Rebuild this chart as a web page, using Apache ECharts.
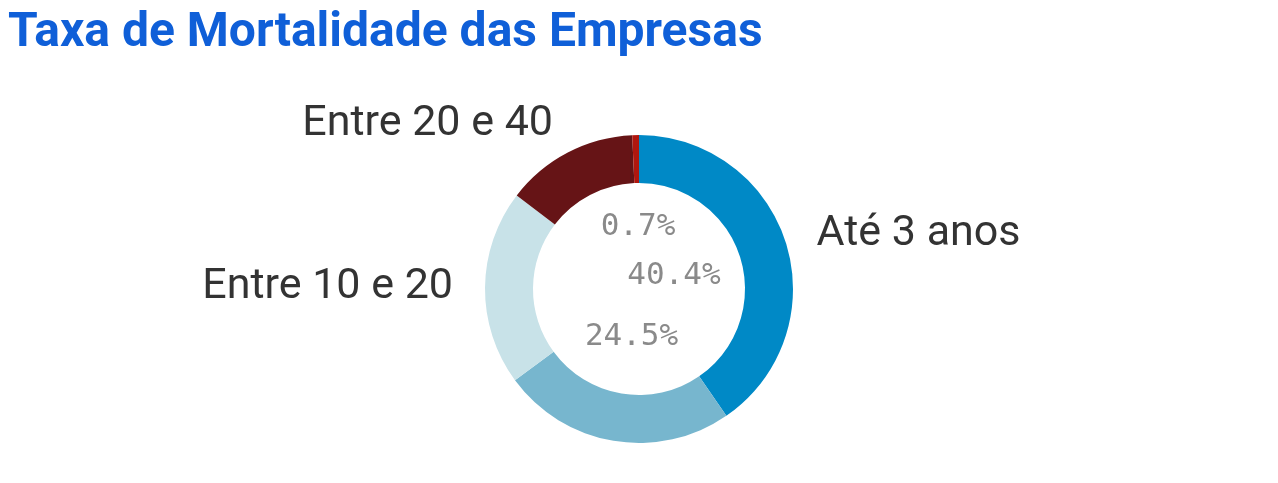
<!DOCTYPE html>
<html>
<head>
<meta charset="utf-8">
<script src="https://cdn.jsdelivr.net/npm/echarts@6/dist/echarts.min.js"></script>
<style>
  html, body { margin: 0; padding: 0; background: #fff; }
  #chart { width: 1278px; height: 483px; }
</style>
</head>
<body>
<div id="chart"></div>
<script>
// faixas de idade e taxa de mortalidade (%)
const faixas = ['Até 3 anos', 'Entre 3 e 10', 'Entre 10 e 20', 'Entre 20 e 40', 'Mais de 40'];
const taxas = [40.4, 24.5, 20.5, 13.9, 0.7];
const cores = ['#0089c6', '#77b6ce', '#c8e2e8', '#661416', '#b0170f'];
// which labels are visible in the original
const mostraNome = [true, false, true, true, false];
const mostraPct = [true, true, false, false, true];
const pctOffset = [[-8, 0], [0, 4], [0, 0], [0, 0], [0, -17]];

let myChart = echarts.init(document.getElementById('chart'));

let outerData = [];
let innerData = [];
for (let i = 0; i < faixas.length; i++) {
  outerData.push({
    name: faixas[i], value: taxas[i],
    itemStyle: {color: cores[i]},
    label: {show: mostraNome[i]}
  });
  innerData.push({
    name: faixas[i], value: taxas[i],
    label: {show: mostraPct[i], offset: pctOffset[i]}
  });
}

let option = {
  animation: false,
  title: {
    text: 'Taxa de Mortalidade das Empresas',
    left: 3,
    top: 5,
    textStyle: {
      color: '#0f5fd8',
      fontFamily: 'Roboto',
      fontWeight: 'bold',
      fontSize: 48
    }
  },
  series: [
    {
      type: 'pie',
      center: [639, 289],
      radius: [106, 154],
      startAngle: 90,
      data: outerData,
      label: {
        color: '#333',
        fontFamily: 'Roboto',
        fontSize: 43,
        distanceToLabelLine: 0
      },
      labelLine: {show: false, length: 32, length2: 0}
    },
    {
      type: 'pie',
      center: [639, 289],
      radius: [0, 84],
      startAngle: 90,
      silent: true,
      data: innerData,
      itemStyle: {color: 'rgba(0,0,0,0)'},
      label: {
        position: 'inside',
        formatter: function (p) { return p.value.toFixed(1) + '%'; },
        color: '#8a8a8a',
        fontFamily: 'DejaVu Sans Mono',
        fontSize: 31
      },
      labelLine: {show: false}
    }
  ]
};

myChart.setOption(option);
</script>
</body>
</html>
